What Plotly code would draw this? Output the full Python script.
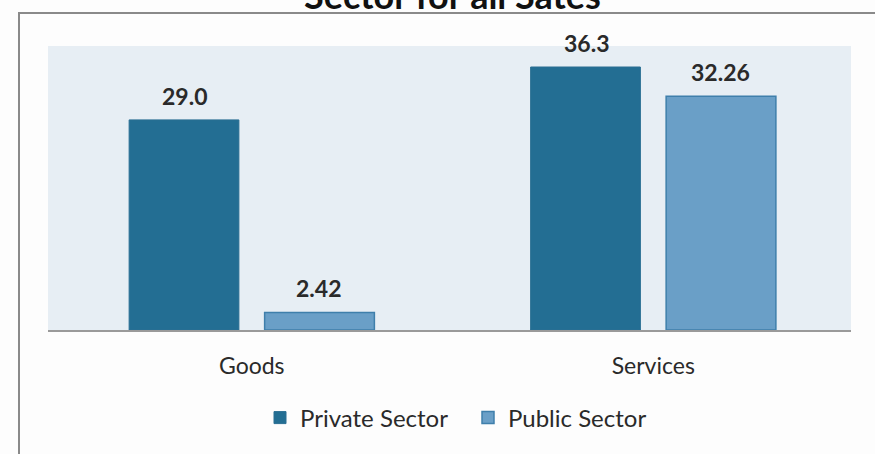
import plotly.graph_objects as go

# Data
categories = ["Goods", "Services"]
private_sector = [29.0, 36.3]
public_sector = [2.42, 32.26]
series_names = ["Private Sector", "Public Sector"]
title_text = "Sector for all Sates"

W, H = 875, 454
M_L, M_R, M_T, M_B = 48, 24, 46, 124
PLOT_W = W - M_L - M_R
PLOT_H = H - M_T - M_B

FONT = "Lato, 'Open Sans', sans-serif"
PRIVATE_COLOR = "#236e93"
PUBLIC_COLOR = "#6a9fc7"
PUBLIC_EDGE = "#3f7fab"
TEXT_COLOR = "#2a2a2a"

fig = go.Figure()
fig.add_trace(go.Bar(
    x=categories, y=private_sector, name=series_names[0],
    marker=dict(color=PRIVATE_COLOR, line=dict(color="#2a6f93", width=1)),
))
fig.add_trace(go.Bar(
    x=categories, y=public_sector, name=series_names[1],
    marker=dict(color=PUBLIC_COLOR, line=dict(color=PUBLIC_EDGE, width=1.5)),
))

# value labels above each bar
bar_offset_px = 67
for vals, shift, fmt in ((private_sector, -bar_offset_px, "{:.1f}"),
                         (public_sector, bar_offset_px, "{:.2f}")):
    for cat, v in zip(categories, vals):
        fig.add_annotation(
            x=cat, y=v, text=f"<b>{fmt.format(v)}</b>", showarrow=False,
            xshift=shift, yshift=24, yanchor="middle",
            font=dict(family=FONT, size=23, color=TEXT_COLOR),
        )

def px_x(p):
    return (p - M_L) / PLOT_W

def px_y(p):
    return (H - M_B - p) / PLOT_H

# title, partly above the page edge
fig.add_annotation(
    xref="paper", yref="paper", x=px_x(452), y=px_y(19), yanchor="bottom",
    text=f"<b>{title_text}</b>", showarrow=False,
    font=dict(family=FONT, size=36, color="#111111"),
)

# outer chart frame
fig.add_shape(
    type="rect", xref="paper", yref="paper",
    x0=px_x(19), x1=px_x(895), y0=px_y(470), y1=px_y(13),
    line=dict(color="#8a8a8a", width=2), fillcolor="rgba(0,0,0,0)", layer="below",
)

fig.update_layout(
    width=W, height=H,
    margin=dict(l=M_L, r=M_R, t=M_T, b=M_B),
    paper_bgcolor="#fdfdfd",
    plot_bgcolor="#e7eef4",
    barmode="group", bargap=0.325, bargroupgap=0.19,
    font=dict(family=FONT, color=TEXT_COLOR),
    showlegend=True,
    legend=dict(
        orientation="h", x=px_x(468), y=px_y(418), xanchor="center", yanchor="middle",
        font=dict(family=FONT, size=24, color=TEXT_COLOR),
        bgcolor="rgba(0,0,0,0)", itemwidth=30, entrywidth=163,
    ),
    xaxis=dict(
        range=[-0.5075, 1.4925],
        showline=True, linecolor="#9a9a9a", linewidth=2,
        tickfont=dict(family=FONT, size=23, color=TEXT_COLOR),
        ticks="", ticklabelstandoff=14, showgrid=False,
    ),
    yaxis=dict(
        range=[0, 39.2], showticklabels=False, showgrid=False,
        zeroline=False, showline=False, fixedrange=True,
    ),
)

fig.write_html("out.html")
